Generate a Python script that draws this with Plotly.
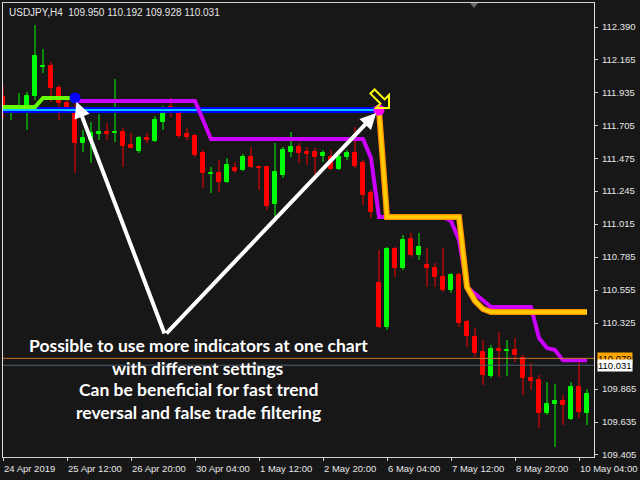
import plotly.graph_objects as go

# ---------------- data ----------------
opens = [111.902, 111.824, 111.825, 111.832, 111.909, 112.111, 112.118, 111.965, 111.860, 111.811,
         111.581, 111.602, 111.644, 111.658, 111.651, 111.658, 111.567, 111.525, 111.616, 111.595,
         111.727, 111.832, 111.790, 111.644, 111.630, 111.511, 111.365, 111.372, 111.309, 111.407,
         111.393, 111.483, 111.414, 111.414, 111.156, 111.358, 111.518, 111.553, 111.518, 111.518,
         111.490, 111.483, 111.400, 111.483, 111.511, 111.442, 111.232, 110.605, 110.298, 110.842,
         110.709, 110.911, 110.800, 110.730, 110.709, 110.646, 110.556, 110.660, 110.333, 110.228,
         110.123, 109.956, 110.144, 110.130, 110.137, 110.081, 109.942, 109.928, 109.698, 109.761,
         109.782, 109.656, 109.879, 109.698]
highs = [111.986, 111.846, 111.930, 111.937, 112.404, 112.237, 112.146, 111.986, 111.902, 111.881,
         111.672, 111.727, 111.783, 111.720, 112.027, 111.686, 111.651, 111.630, 111.651, 111.769,
         111.839, 111.895, 111.825, 111.686, 111.644, 111.532, 111.414, 111.462, 111.476, 111.448,
         111.504, 111.553, 111.421, 111.421, 111.581, 111.553, 111.658, 111.581, 111.553, 111.546,
         111.532, 111.532, 111.511, 111.532, 111.693, 111.462, 111.253, 110.835, 110.856, 110.856,
         110.939, 110.953, 110.953, 110.849, 110.744, 110.849, 110.674, 110.674, 110.347, 110.291,
         110.207, 110.172, 110.263, 110.207, 110.221, 110.102, 110.047, 109.963, 109.914, 109.900,
         109.823, 109.914, 110.054, 109.865]
lows = [111.755, 111.741, 111.797, 111.672, 111.881, 112.069, 111.867, 111.741, 111.797, 111.372,
        111.518, 111.442, 111.602, 111.602, 111.588, 111.414, 111.543, 111.511, 111.581, 111.588,
        111.672, 111.762, 111.616, 111.602, 111.483, 111.267, 111.232, 111.239, 111.302, 111.372,
        111.386, 111.407, 111.253, 111.114, 111.058, 111.337, 111.483, 111.442, 111.428, 111.358,
        111.448, 111.393, 111.393, 111.462, 111.407, 111.149, 111.058, 110.291, 110.277, 110.646,
        110.695, 110.786, 110.765, 110.577, 110.577, 110.542, 110.535, 110.298, 110.158, 110.088,
        109.893, 109.942, 109.949, 109.956, 110.054, 109.823, 109.858, 109.593, 109.684, 109.461,
        109.614, 109.649, 109.663, 109.614]
closes = [111.825, 111.826, 111.839, 111.909, 112.188, 112.118, 111.965, 111.860, 111.825, 111.581,
          111.616, 111.651, 111.658, 111.644, 111.658, 111.560, 111.546, 111.616, 111.602, 111.741,
          111.790, 111.818, 111.630, 111.623, 111.497, 111.372, 111.372, 111.309, 111.428, 111.386,
          111.483, 111.414, 111.407, 111.142, 111.379, 111.532, 111.553, 111.511, 111.504, 111.483,
          111.511, 111.400, 111.483, 111.511, 111.421, 111.218, 111.100, 110.298, 110.842, 110.709,
          110.904, 110.800, 110.856, 110.709, 110.646, 110.556, 110.660, 110.326, 110.235, 110.116,
          109.963, 110.144, 110.130, 110.137, 110.102, 109.942, 109.921, 109.698, 109.761, 109.782,
          109.754, 109.879, 109.705, 109.830]

N = 74
green_line = [111.832] * 5 + [111.895] * 5 + [None] * (N - 10)
magenta_line = ([None] * 9 + [111.874] * 16 + [111.742] + [111.609] * 20 + [111.476]
                + [111.065] * 9 + [111.037, 110.904, 110.577, 110.528, 110.479]
                + [110.437] * 6 + [110.221, 110.151, 110.137] + [110.065] * 4)
orange_line = ([None] * 47 + [111.811] + [111.065] * 10 + [110.577, 110.479, 110.423]
               + [110.402] * 13)
level_price = 111.811
level_bars = [0, 47]
blue_signal_bar, blue_signal_price = 9, 111.895
magenta_signal_bar, magenta_signal_price = 47, 111.811
arrow_apex_bar, arrow_apex_price = 20.25, 110.242
ask_price = 110.079
bid_price = 110.031

y_ticks = [112.390, 112.165, 111.935, 111.705, 111.475, 111.245, 111.015, 110.785,
           110.555, 110.325, 109.865, 109.635, 109.405]
x_tick_bars = [0, 8, 16, 24, 32, 40, 48, 56, 64, 72]
x_tick_labels = ["24 Apr 2019", "25 Apr 12:00", "26 Apr 20:00", "30 Apr 04:00", "1 May 12:00",
                 "2 May 20:00", "6 May 04:00", "7 May 12:00", "8 May 20:00", "10 May 04:00"]
header = "USDJPY,H4  109.950 110.192 109.928 110.031"
message = ["Possible to use more indicators at one chart", "with different settings",
           "Can be beneficial for fast trend", "reversal and false trade filtering"]

# ---------------- figure ----------------
BG = "#171717"
UP, DN = "#00FF00", "#FF0000"
bars = list(range(N))
fig = go.Figure()

for color, sel in ((UP, lambda o, c: c >= o), (DN, lambda o, c: c < o)):
    idx = [i for i in bars if sel(opens[i], closes[i])]
    wx, wy = [], []
    for i in idx:
        wx += [i, i, None]
        wy += [lows[i], highs[i], None]
    fig.add_trace(go.Scatter(x=wx, y=wy, mode="lines", line=dict(color=color, width=1),
                             hoverinfo="skip", showlegend=False))
    fig.add_trace(go.Bar(x=idx, base=[min(opens[i], closes[i]) for i in idx],
                         y=[abs(closes[i] - opens[i]) for i in idx], width=0.5,
                         marker=dict(color=color, line=dict(color=color, width=1)),
                         hoverinfo="skip", showlegend=False))

# level line (blue with cyan core)
fig.add_trace(go.Scatter(x=level_bars, y=[level_price] * 2, mode="lines",
                         line=dict(color="#0000FF", width=6), showlegend=False, hoverinfo="skip"))
fig.add_trace(go.Scatter(x=level_bars, y=[level_price] * 2, mode="lines",
                         line=dict(color="#00C8FF", width=2), showlegend=False, hoverinfo="skip"))
# indicator lines
fig.add_trace(go.Scatter(x=bars, y=green_line, mode="lines", line=dict(color="#66FF00", width=4),
                         showlegend=False, hoverinfo="skip"))
fig.add_trace(go.Scatter(x=bars, y=magenta_line, mode="lines", line=dict(color="#CC00FF", width=4),
                         showlegend=False, hoverinfo="skip"))
fig.add_trace(go.Scatter(x=bars, y=orange_line, mode="lines", line=dict(color="#FF9000", width=6),
                         showlegend=False, hoverinfo="skip"))
fig.add_trace(go.Scatter(x=bars, y=orange_line, mode="lines", line=dict(color="#FFCC00", width=3.5),
                         showlegend=False, hoverinfo="skip"))
# signal dots
fig.add_trace(go.Scatter(x=[blue_signal_bar], y=[blue_signal_price], mode="markers",
                         marker=dict(color="#0000FF", size=11), showlegend=False, hoverinfo="skip"))
fig.add_trace(go.Scatter(x=[magenta_signal_bar], y=[magenta_signal_price], mode="markers",
                         marker=dict(color="#FF00FF", size=11), showlegend=False, hoverinfo="skip"))

# bid / ask lines
fig.add_shape(type="line", xref="paper", x0=0, x1=1, y0=ask_price, y1=ask_price,
              line=dict(color="#C8782A", width=1))
fig.add_shape(type="line", xref="paper", x0=0, x1=1, y0=bid_price, y1=bid_price,
              line=dict(color="#4F5F6F", width=1))

# yellow hollow arrow next to the magenta signal
fig.add_shape(type="path", xref="x", yref="y", xsizemode="pixel", ysizemode="pixel",
              xanchor=magenta_signal_bar, yanchor=magenta_signal_price,
              path="M10,2 L10,15 L5.6,10.6 L-4.4,20.6 L-8.6,16.4 L1.4,6.4 L-3,2 Z",
              line=dict(color="#FFFF00", width=2), fillcolor="rgba(0,0,0,0)")
# small shift marker at the top
fig.add_shape(type="path", xref="paper", yref="paper", xsizemode="pixel", ysizemode="pixel",
              xanchor=0.797, yanchor=1, path="M-4,0 L4,0 L0,-5 Z",
              line=dict(width=0), fillcolor="#6A6A6A")

# white arrows
for tb, tp in ((blue_signal_bar, blue_signal_price), (magenta_signal_bar, magenta_signal_price)):
    fig.add_annotation(x=tb, y=tp, ax=arrow_apex_bar, ay=arrow_apex_price, axref="x", ayref="y",
                       xref="x", yref="y", text="", showarrow=True, arrowhead=2, arrowsize=0.8,
                       arrowwidth=4, arrowcolor="#FFFFFF", standoff=4)

# message text
msg_y = [0.2445, 0.1950, 0.1480, 0.0991]
for t, yy in zip(message, msg_y):
    fig.add_annotation(x=0.330, y=yy, xref="paper", yref="paper", text=t, showarrow=False,
                       xanchor="center", yanchor="middle",
                       font=dict(family="Lato", size=17.5, color="#FFFFFF", weight="bold"))

# header
fig.add_annotation(x=0, y=1, xref="paper", yref="paper", xshift=4, yshift=-9, text=header,
                   showarrow=False, xanchor="left", yanchor="middle",
                   font=dict(family="Liberation Sans", size=10, color="#E6E6E6"))

# x tick labels (left aligned at tick like MT4)
for b, lab in zip(x_tick_bars, x_tick_labels):
    fig.add_annotation(x=b, y=0, xref="x", yref="paper", yshift=-11, xshift=-1, text=lab,
                       showarrow=False, xanchor="left", yanchor="middle",
                       font=dict(family="Liberation Sans", size=9.5, color="#E6E6E6"))

# price labels
fig.add_annotation(x=1, y=ask_price, xref="paper", yref="y", xshift=3, text=f"{ask_price:.3f}",
                   showarrow=False, xanchor="left", yanchor="middle", bgcolor="#FFA500",
                   borderpad=0, font=dict(family="Liberation Sans", size=9.5, color="#000000"))
fig.add_annotation(x=1, y=bid_price, xref="paper", yref="y", xshift=3, text=f"{bid_price:.3f}",
                   showarrow=False, xanchor="left", yanchor="middle", bgcolor="#FFFFFF",
                   borderpad=0, font=dict(family="Liberation Sans", size=9.5, color="#000000"))

fig.update_layout(
    width=640, height=480, margin=dict(l=3, r=46, t=3, b=23),
    paper_bgcolor=BG, plot_bgcolor=BG, showlegend=False, bargap=0,
    xaxis=dict(range=[0, 73.875], showgrid=False, zeroline=False, showline=True, mirror=True,
               linecolor="#D0D0D0", linewidth=1, ticks="outside", ticklen=3, tickcolor="#D0D0D0",
               tickvals=x_tick_bars, showticklabels=False, fixedrange=True),
    yaxis=dict(range=[109.3910, 112.5574], side="right", showgrid=False, zeroline=False,
               showline=True, mirror=True, linecolor="#E0E0E0", linewidth=1, ticks="outside",
               ticklen=3, tickcolor="#D0D0D0", tickvals=y_ticks,
               ticktext=[f"{v:.3f}" for v in y_ticks], ticklabelstandoff=2,
               tickfont=dict(family="Liberation Sans", size=9.5, color="#E6E6E6")),
)

fig.write_html("out.html", config={"displayModeBar": False},
               post_script="document.body.style.margin='0';document.body.style.background='#171717';")
